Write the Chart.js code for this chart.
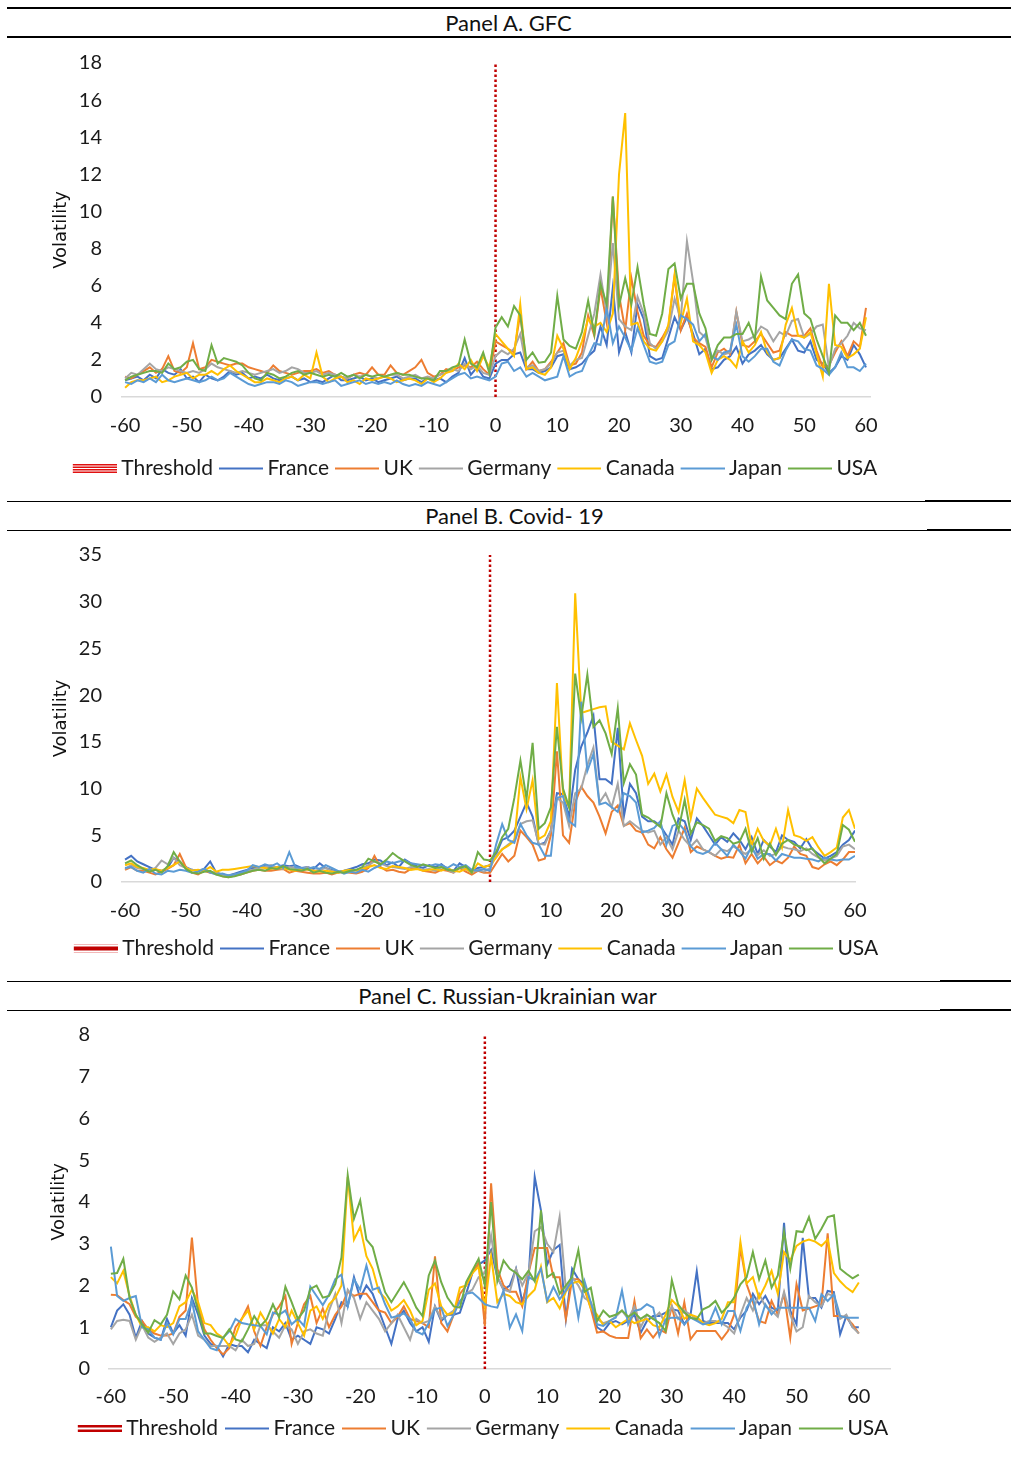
<!DOCTYPE html>
<html>
<head>
<meta charset="utf-8">
<script src="https://cdn.jsdelivr.net/npm/chart.js@4.4.0/dist/chart.umd.min.js"></script>
<style>
  html, body { margin: 0; padding: 0; background: #fff; }
  body { width: 1011px; height: 1459px; position: relative; overflow: hidden; font-family: Lato, "Liberation Sans", sans-serif; }
  .rule { position: absolute; background: #000; }
  .title { position: absolute; width: 1011px; text-align: center; font-size: 22px; line-height: 24px; color: #111; }
  canvas { position: absolute; left: 0; }
</style>
</head>
<body>
<!-- panel title bars -->
<div class="rule" style="left:7px;top:7px;width:1004px;height:2px"></div>
<div class="title" style="left:3px;top:11px">Panel A. GFC</div>
<div class="rule" style="left:7px;top:36px;width:1004px;height:2px"></div>

<div class="rule" style="left:7px;top:501px;width:918px;height:1px"></div>
<div class="rule" style="left:925px;top:500px;width:86px;height:2px"></div>
<div class="title" style="left:9px;top:504px">Panel B. Covid- 19</div>
<div class="rule" style="left:7px;top:530px;width:920px;height:1px"></div>
<div class="rule" style="left:927px;top:529px;width:84px;height:2px"></div>

<div class="rule" style="left:7px;top:981px;width:933px;height:1px"></div>
<div class="rule" style="left:940px;top:980px;width:71px;height:2px"></div>
<div class="title" style="left:2px;top:984px">Panel C. Russian-Ukrainian war</div>
<div class="rule" style="left:7px;top:1010px;width:933px;height:1px"></div>
<div class="rule" style="left:940px;top:1009px;width:71px;height:2px"></div>

<canvas id="chartA" width="1011" height="455" style="top:40px"></canvas>
<canvas id="chartB" width="1011" height="447" style="top:533px"></canvas>
<canvas id="chartC" width="1011" height="446" style="top:1013px"></canvas>

<script>
// event window, days -60 .. 60
const days = [];
for (let d = -60; d <= 60; d++) days.push(d);
const xTickValues = [-60, -50, -40, -30, -20, -10, 0, 10, 20, 30, 40, 50, 60];

const seriesNames = ['France', 'UK', 'Germany', 'Canada', 'Japan', 'USA'];
const seriesColors = ['#4472C4', '#ED7D31', '#A5A5A5', '#FFC000', '#5B9BD5', '#70AD47'];

// ---- Panel A. GFC ----
const gfcFrance = [0.9,1.0,1.1,0.9,1.2,1.0,1.5,1.3,1.2,1.5, 1.0,1.1,0.8,1.2,1.0,0.9,1.1,1.4,1.2,1.3, 1.0,1.1,1.0,1.2,1.0,0.9,1.0,1.1,0.9,1.0, 0.8,0.9,0.8,1.0,1.2,0.9,0.9,1.0,1.1,0.9, 1.0,0.8,0.9,1.0,1.1,0.9,1.0,1.0,0.8,1.0, 0.9,1.0,0.8,1.1,1.3,2.1,1.2,1.6,1.1,1.0,
  1.8,2.0,2.0,2.3,2.4,1.5,1.5,1.3,1.4,1.6, 2.2,2.3,1.5,1.6,1.8,2.2,2.5,3.8,2.8,5.9, 2.4,3.5,2.4,5.0,4.2,2.2,2.0,2.1,3.2,4.3, 3.6,4.3,3.4,2.3,2.6,1.5,1.6,2.0,2.2,2.7, 1.8,2.3,2.5,2.8,2.3,2.0,2.1,2.6,3.1,2.5, 2.4,3.0,2.0,1.8,1.3,1.6,2.2,2.0,2.8,2.3, 1.6];
const gfcUK = [1.1,1.0,1.2,1.4,1.6,1.3,1.5,2.2,1.4,1.3, 1.6,2.9,1.5,1.6,2.0,1.9,1.8,1.7,1.8,1.8, 1.6,1.5,1.4,1.3,1.7,1.4,1.3,1.2,1.3,1.4, 1.4,1.5,1.3,1.4,1.2,1.1,1.0,1.2,1.3,1.2, 1.6,1.2,1.2,1.7,1.3,1.2,1.4,1.6,2.0,1.3, 1.1,1.2,1.5,1.4,1.6,1.7,1.6,1.9,1.5,1.2,
  3.0,2.8,2.6,2.4,4.5,1.5,1.9,1.4,1.5,1.9, 2.4,2.9,1.7,1.8,2.4,4.4,3.3,5.9,4.0,10.8, 5.5,3.6,6.4,4.6,3.3,2.8,2.7,3.2,3.8,6.5, 3.6,4.5,3.2,2.9,2.7,1.6,2.4,2.6,2.3,4.6, 2.8,2.7,3.0,3.4,2.9,2.4,2.5,3.5,3.3,3.3, 3.3,3.7,2.5,1.6,1.7,2.4,3.0,2.2,3.0,2.7, 4.8];
const gfcGermany = [1.0,1.3,1.2,1.5,1.8,1.5,1.4,1.6,1.5,1.4, 1.3,1.4,1.3,1.5,1.8,1.6,1.5,1.4,1.3,1.4, 1.3,1.2,1.3,1.4,1.5,1.3,1.4,1.6,1.5,1.3, 1.3,1.4,1.2,1.3,1.2,1.1,1.0,1.2,1.1,1.2, 1.1,1.0,1.1,1.2,1.2,1.0,1.1,1.2,1.0,1.1, 1.0,1.2,1.3,1.5,1.4,1.8,1.5,1.7,1.3,1.2,
  2.2,2.5,2.3,2.6,3.4,1.6,1.7,1.4,1.5,1.8, 2.4,2.5,1.7,2.0,2.1,3.3,4.5,6.6,4.5,8.3, 4.2,3.8,3.6,5.4,4.5,2.9,2.6,3.0,3.6,5.3, 4.2,8.4,6.2,3.5,3.2,2.0,2.5,2.3,2.4,4.6, 3.0,3.1,3.3,3.8,3.6,3.0,3.5,3.3,4.1,4.2, 3.2,3.4,3.8,3.9,1.6,2.6,2.9,3.3,4.0,3.7, 3.6];
const gfcCanada = [0.5,0.8,0.9,0.9,1.0,1.1,0.8,0.9,1.1,1.2, 1.3,1.0,1.2,1.2,1.4,1.2,1.5,1.7,1.4,1.2, 1.0,0.8,0.8,1.0,0.9,0.8,1.0,1.1,0.9,1.2, 1.0,2.4,1.1,0.8,1.0,1.1,0.8,0.9,0.7,1.0, 0.9,1.0,1.1,1.0,0.8,0.9,1.0,0.9,0.7,1.0, 0.8,1.0,1.3,1.4,1.8,1.5,2.0,1.4,2.2,1.6,
  3.4,3.0,2.6,2.2,5.0,1.5,1.6,1.3,1.2,1.6, 3.3,2.6,1.5,2.1,3.0,4.2,3.8,4.0,3.5,4.5, 12.0,15.3,3.9,4.0,3.0,2.6,2.5,3.0,3.9,6.6, 4.0,5.3,3.0,2.8,2.4,1.3,2.0,2.2,2.0,1.6, 3.0,2.4,2.8,3.5,2.4,2.0,2.1,3.9,4.8,3.3, 3.2,3.5,2.3,1.1,6.1,2.8,2.7,2.1,2.3,2.6, 4.3];
const gfcJapan = [0.8,0.7,0.9,0.8,1.0,0.8,1.2,0.9,0.8,0.9, 1.0,0.9,0.8,0.9,1.1,0.9,1.0,1.3,1.1,0.9, 0.7,0.6,0.7,0.8,0.8,0.7,0.9,0.8,0.6,0.7, 0.8,0.8,0.7,0.8,0.9,0.6,0.7,0.8,0.9,0.7, 0.8,0.7,0.8,0.7,0.9,0.7,0.6,0.7,0.6,0.8, 0.7,0.6,0.8,1.0,1.2,1.3,1.0,1.1,1.0,0.9,
  1.1,1.8,1.9,1.4,1.6,1.1,1.3,1.1,0.9,1.0, 1.1,2.2,1.1,1.3,1.4,2.2,2.9,2.8,4.8,2.9, 3.8,3.2,2.5,3.7,2.8,1.9,1.8,1.9,2.8,3.0, 4.4,4.2,3.9,3.0,3.4,2.2,2.0,2.4,2.5,3.9, 2.2,1.9,2.2,2.6,2.6,1.9,1.7,2.5,3.1,3.0, 2.6,2.5,1.7,1.5,1.2,1.6,2.4,1.6,1.6,1.4, 1.8];
const gfcUSA = [0.9,1.1,1.2,1.3,1.4,1.4,1.3,1.8,1.5,1.6, 1.9,2.0,1.5,1.4,2.8,1.8,2.1,2.0,1.9,1.7, 1.3,1.0,0.9,1.3,1.2,1.0,1.1,1.3,1.4,1.2, 1.3,1.2,1.1,1.2,1.1,1.3,1.1,1.2,1.0,1.2, 1.1,1.2,1.1,1.2,1.3,1.2,1.2,1.1,1.0,1.0, 0.9,1.4,1.4,1.6,1.7,3.1,1.8,1.6,2.4,1.3,
  3.75,4.3,3.8,4.9,4.4,2.0,2.4,1.85,1.9,2.4, 5.45,3.1,2.75,2.6,3.5,5.2,3.4,6.1,5.0,10.8, 4.9,6.4,5.0,7.0,5.0,3.4,3.3,4.5,6.9,7.2, 5.3,6.1,6.1,4.5,3.7,2.0,2.8,3.2,3.2,3.4, 3.4,4.0,3.1,6.5,5.2,4.8,4.4,4.2,6.1,6.6, 4.5,4.2,3.1,2.2,1.3,4.4,4.0,4.0,3.6,4.0, 3.3];

// ---- Panel B. Covid-19 ----
const covFrance = [2.4,2.8,2.2,1.9,1.6,1.3,1.2,1.5,2.6,2.2, 1.6,1.3,1.2,1.4,2.2,1.0,0.8,0.7,0.9,1.1, 1.3,1.5,1.6,1.7,1.5,1.6,1.8,1.7,1.8,1.5, 1.6,1.4,2.0,1.5,1.3,1.1,1.2,1.4,1.6,1.9, 2.0,2.4,2.3,1.8,2.1,1.6,2.4,2.0,1.7,1.5, 1.8,1.6,1.9,1.4,1.2,2.0,1.6,1.2,1.5,1.6,
  1.8,3.0,4.5,4.8,5.5,7.0,8.5,7.0,4.0,4.2, 5.5,9.5,9.4,7.0,12.0,14.5,16.0,17.8,11.0,11.0, 10.5,16.5,7.0,10.5,9.5,7.0,6.5,6.5,6.0,5.0, 4.0,6.8,6.5,4.5,6.8,6.0,5.0,4.0,4.8,4.3, 5.2,4.5,3.5,4.8,3.0,4.5,3.8,3.2,5.0,4.5, 4.3,3.6,4.6,3.5,3.0,2.5,2.8,3.2,4.0,4.5, 5.5];
const covUK = [1.3,1.6,1.2,1.2,1.0,0.8,1.1,1.4,1.8,3.0, 1.6,1.0,0.8,1.2,1.0,0.9,0.6,0.5,0.7,0.8, 1.0,1.2,1.3,1.2,1.2,1.3,1.4,1.0,1.2,1.1, 1.0,0.9,0.9,1.0,0.8,1.0,1.1,1.0,0.9,1.1, 1.5,2.8,1.6,1.2,1.3,1.1,1.0,1.4,1.5,1.2, 1.1,1.0,1.3,1.2,1.0,1.5,1.1,0.8,1.2,1.0,
  1.0,2.0,3.0,2.2,2.8,5.5,4.8,4.0,2.3,2.5, 5.0,14.0,5.0,4.2,8.5,10.2,9.2,8.5,7.0,5.2, 7.5,8.2,6.0,6.3,5.5,5.3,4.0,3.6,4.8,3.5, 2.6,4.2,5.8,3.2,3.8,3.5,3.2,2.8,2.5,2.7, 2.6,4.0,2.0,3.0,2.0,2.7,1.8,2.3,2.0,2.6, 3.8,3.0,2.8,1.6,1.4,1.9,2.2,1.8,2.4,3.2, 3.2];
const covGermany = [1.4,1.8,1.5,1.4,1.2,1.5,2.3,1.9,2.6,1.8, 1.5,1.3,1.2,1.3,1.1,1.0,0.8,0.7,0.8,0.9, 1.2,1.3,1.5,1.6,1.8,1.5,1.4,1.6,1.5,1.4, 1.6,1.2,1.3,1.5,1.2,1.0,1.2,1.1,1.3,1.5, 1.8,2.2,2.0,1.7,1.6,1.5,1.4,1.6,1.5,1.3, 1.4,1.2,1.6,1.3,1.0,1.6,1.4,1.0,1.3,1.1,
  1.5,2.8,3.5,4.0,4.5,6.2,6.5,6.6,4.1,4.0, 5.5,9.0,8.5,6.0,9.5,10.0,12.5,14.4,8.5,9.5, 8.0,10.5,6.0,6.5,6.0,5.5,5.3,5.5,4.0,4.8, 3.5,5.5,4.5,3.8,4.5,3.5,3.2,2.8,3.5,3.3, 3.8,3.4,3.0,3.5,2.9,3.4,2.8,3.0,3.8,3.6, 3.5,3.3,3.6,3.0,2.6,2.3,2.5,2.8,3.8,4.0, 3.5];
const covCanada = [1.8,2.0,1.6,1.5,1.3,1.4,1.2,1.5,1.8,2.2, 1.5,1.2,1.3,1.2,1.6,1.1,1.3,1.3,1.4,1.5, 1.6,1.7,1.6,1.5,1.4,1.6,1.5,1.3,1.2,1.4, 1.3,1.2,1.1,1.2,1.1,1.0,1.2,1.3,1.2,1.4, 1.6,1.8,1.5,1.4,1.7,1.6,1.5,1.3,1.4,1.2, 1.3,1.4,1.2,1.5,1.2,1.1,1.4,1.0,2.0,1.6,
  1.8,2.6,3.5,3.9,4.4,11.2,7.8,10.9,4.6,5.0, 6.5,21.3,9.4,8.0,30.9,18.1,18.3,18.5,18.7,18.8, 15.0,14.6,14.2,17.0,15.2,13.5,10.5,11.6,9.7,11.5, 9.1,7.5,10.9,6.8,10.0,9.0,8.1,7.2,7.0,6.8, 6.3,7.7,7.5,3.9,5.7,4.4,3.9,5.7,3.7,7.7, 5.0,4.8,4.4,4.8,3.7,2.8,3.2,3.7,6.9,7.7, 5.7];
const covJapan = [1.5,1.6,1.2,1.0,1.4,0.9,0.8,1.2,1.1,1.3, 1.2,1.0,1.1,1.4,1.0,0.8,0.9,0.7,0.8,1.0, 1.2,1.8,1.6,1.9,1.7,2.0,1.5,3.2,1.6,1.5, 1.4,1.6,1.4,1.8,1.5,1.2,0.9,1.1,1.0,1.3, 1.1,1.5,1.8,2.2,2.0,2.2,2.3,2.0,1.9,1.8, 1.7,1.9,1.8,1.5,1.9,1.6,1.8,1.3,1.2,1.4,
  1.2,4.0,6.2,4.5,4.2,6.2,5.0,4.2,4.0,2.8, 2.8,9.0,9.2,6.5,6.0,19.3,11.9,13.7,8.3,8.5, 8.0,7.5,9.5,9.2,8.5,5.3,5.5,5.8,6.5,4.0, 6.0,6.3,5.5,3.8,3.2,3.0,3.3,4.2,3.5,2.8, 4.0,3.3,2.5,3.8,2.5,3.0,3.0,2.3,3.0,2.8, 2.6,2.6,2.5,2.4,2.2,2.6,2.4,2.3,2.4,2.4, 2.8];
const covUSA = [2.0,2.3,1.8,1.4,1.1,1.3,1.0,1.7,3.2,2.2, 1.4,1.0,0.9,1.1,1.2,0.8,0.6,0.5,0.6,0.8, 1.0,1.2,1.3,1.2,1.5,1.4,1.7,1.4,1.3,1.2, 1.4,1.0,1.2,1.0,0.9,1.1,1.0,1.2,1.3,1.6, 2.5,2.2,1.9,2.4,3.1,2.6,2.2,1.8,1.6,1.9, 1.7,1.5,1.6,1.3,1.2,1.5,1.7,1.0,3.2,2.4,
  2.3,3.2,4.8,5.7,9.0,13.0,8.9,14.9,5.7,6.3, 8.0,16.6,10.0,8.0,22.3,17.6,22.2,16.6,17.3,15.9, 13.7,18.6,10.6,12.6,11.5,7.2,6.9,6.4,5.9,9.5, 7.2,5.6,8.8,5.2,6.4,6.1,5.7,4.4,4.9,4.7, 4.1,4.3,5.7,3.2,4.7,2.5,4.1,2.9,4.1,4.5, 4.0,3.8,3.4,3.6,2.7,2.0,2.5,3.0,6.1,5.6, 4.3];

// ---- Panel C. Russian-Ukrainian war ----
const ruFrance = [1.0,1.4,1.55,1.3,0.75,1.15,0.85,0.75,0.7,1.2, 0.85,1.05,0.8,1.7,1.3,0.8,0.6,0.55,0.3,0.6, 0.55,0.55,0.4,0.7,0.6,0.5,1.0,0.9,1.1,0.7, 0.8,0.7,0.6,1.0,0.95,0.85,1.2,1.6,1.5,2.2, 1.7,2.0,1.8,1.4,1.0,0.6,1.2,1.4,1.1,0.9, 1.0,0.65,1.5,1.15,1.3,1.3,1.35,1.8,2.3,2.5,
  2.6,2.85,2.2,1.9,2.0,2.4,1.6,2.15,4.6,3.8, 2.5,2.85,2.97,1.2,2.4,2.15,2.03,1.55,1.0,0.9, 1.1,1.15,1.07,1.15,1.3,0.87,1.15,1.27,1.27,1.35, 1.43,1.4,1.07,1.3,2.34,1.15,1.1,1.1,1.1,1.1, 0.95,1.23,1.4,1.8,1.55,1.75,1.47,1.4,3.5,1.4, 1.07,3.14,1.7,1.7,1.47,1.87,1.84,0.83,1.27,1.0, 1.0];
const ruUK = [1.78,1.77,1.65,1.55,1.25,1.15,0.95,0.85,0.8,0.8, 0.85,1.25,1.4,3.15,1.5,0.95,0.7,0.5,0.35,0.5, 1.0,1.2,1.5,0.9,0.55,1.0,1.3,1.5,1.75,0.6, 1.1,1.55,1.75,1.1,1.45,1.0,1.3,1.5,1.85,1.75, 1.8,1.8,1.6,1.4,1.35,1.1,1.25,1.5,1.2,1.15, 1.1,1.0,2.7,1.1,0.9,1.3,1.8,2.0,2.3,2.55,
  1.03,4.45,2.4,2.0,1.85,1.85,1.5,2.3,2.9,2.9, 2.9,2.2,2.2,1.2,2.15,2.15,1.9,1.45,0.87,0.9, 0.8,0.75,0.74,0.74,1.63,0.74,0.95,0.75,0.95,0.87, 1.5,0.85,1.6,0.71,0.91,0.91,0.91,0.91,0.71,0.91, 1.3,2.9,2.03,1.6,1.15,1.1,1.63,1.3,1.8,0.75, 2.03,1.4,1.45,1.5,1.55,3.25,1.27,1.27,1.23,1.07, 0.85];
const ruGermany = [0.95,1.15,1.18,1.15,0.7,1.05,0.75,0.65,0.75,0.85, 0.6,0.85,0.95,1.3,0.8,0.7,0.55,0.55,0.55,0.55, 0.45,0.7,0.55,0.6,1.05,1.05,0.9,0.75,1.05,0.95, 0.6,0.9,0.95,0.85,0.8,1.4,1.8,1.1,1.9,1.7, 1.2,1.6,1.4,1.2,0.9,1.1,1.3,1.0,0.7,1.2, 1.1,1.15,1.5,1.2,1.3,1.4,1.6,1.8,1.9,2.2,
  2.3,3.2,2.2,1.9,1.85,2.4,2.0,2.3,3.3,3.4, 3.0,2.8,3.65,1.9,2.2,2.0,1.7,1.6,1.2,1.1, 1.15,1.25,1.4,1.2,1.5,1.0,1.3,1.2,1.35,1.1, 1.5,1.2,1.4,1.3,1.2,1.1,1.15,1.15,1.1,1.0, 0.85,1.3,1.7,1.4,1.8,1.5,1.4,1.25,1.85,1.3, 0.9,1.0,1.75,1.6,1.5,1.8,1.75,1.2,1.3,1.0, 0.85];
const ruCanada = [2.2,2.05,2.35,1.75,1.3,1.0,1.0,0.9,1.05,1.0, 1.1,1.5,1.6,1.9,1.6,1.1,1.05,0.85,0.75,0.55, 0.8,1.2,1.4,0.95,1.35,1.1,0.85,1.2,1.0,1.4, 1.1,0.8,1.4,1.5,1.2,1.55,1.7,2.0,4.6,3.1, 3.4,2.7,2.4,1.85,1.7,1.4,1.5,1.65,1.4,1.05, 1.15,1.9,2.05,1.5,1.3,1.35,1.95,2.0,2.3,2.45,
  1.5,2.7,1.6,1.8,1.75,1.6,1.55,1.75,1.9,2.45, 1.6,1.7,1.45,1.85,2.05,2.1,1.95,1.45,1.3,1.05, 1.15,1.0,1.1,1.2,1.1,1.15,1.2,1.05,1.0,1.3, 1.65,1.5,1.2,1.3,1.25,1.1,1.05,1.1,1.2,1.6, 1.6,3.05,2.05,2.2,1.7,2.0,2.35,1.8,2.8,2.6, 2.95,3.05,3.1,3.05,2.95,3.1,2.3,2.1,1.95,1.84, 2.07];
const ruJapan = [2.93,1.75,1.63,1.7,1.75,1.0,0.95,0.75,0.7,1.1, 0.83,1.2,1.2,1.63,0.9,0.7,0.5,0.45,0.75,0.9, 1.2,1.1,1.07,1.05,1.03,0.83,1.35,1.3,1.4,1.07, 1.2,1.03,1.97,1.75,1.53,1.78,2.15,2.26,1.5,2.15, 1.9,2.48,1.9,1.95,1.55,1.23,1.27,1.33,1.2,0.9, 0.83,1.1,1.43,1.47,1.03,1.3,1.63,1.8,1.83,1.7,
  1.55,1.5,1.47,1.88,0.99,1.31,0.91,2.2,2.12,2.4, 1.63,1.97,1.67,1.88,2.12,1.23,2.1,1.6,1.07,1.03, 1.15,1.23,1.88,1.07,1.39,1.43,1.55,1.47,0.79,1.19, 1.23,1.23,1.07,1.23,1.15,1.07,1.11,1.47,1.07,1.39, 1.39,0.91,1.47,1.71,1.07,1.55,1.31,1.47,1.47,1.47, 1.47,1.47,1.47,1.15,1.79,1.63,1.79,1.27,1.23,1.23, 1.23];
const ruUSA = [2.28,2.3,2.64,1.7,1.3,1.07,0.87,1.17,1.07,1.3, 1.86,1.67,2.24,1.95,1.4,0.85,0.85,0.79,0.74,0.95, 0.71,0.66,0.95,1.27,1.03,1.19,1.55,1.23,1.97,1.6, 1.2,1.4,1.92,2.0,1.71,1.75,2.03,2.68,4.64,3.6, 4.04,3.1,2.92,2.36,1.84,1.6,1.84,2.08,1.8,1.47, 1.27,2.24,2.6,2.08,1.71,1.5,1.47,2.08,2.36,2.64,
  2.0,4.0,2.1,2.6,2.4,2.3,2.15,2.35,2.1,3.8, 2.2,2.3,1.8,2.0,2.2,2.85,1.85,1.95,1.15,1.4, 1.25,1.3,1.4,1.25,1.35,1.2,1.3,1.2,1.1,0.91, 2.13,1.55,1.35,1.23,1.19,1.43,1.5,1.63,1.35,1.5, 1.71,2.03,2.2,2.8,2.15,2.6,1.95,2.24,3.28,2.4, 3.3,3.28,3.64,3.12,3.36,3.64,3.68,2.4,2.28,2.17, 2.26];

// legend swatches: drawn right-shifted so the gap to the label stays small
function lineIcon(color) {
  const c = document.createElement('canvas');
  c.width = 54; c.height = 4;
  const g = c.getContext('2d');
  g.fillStyle = color;
  g.fillRect(10, 1, 44, 2);
  return c;
}

function thresholdIcon(kind) {
  const c = document.createElement('canvas');
  c.width = 54; c.height = 11;
  const g = c.getContext('2d');
  if (kind === 'A') {
    g.fillStyle = '#E01010';
    [1, 3.5, 6, 8.5].forEach(y => g.fillRect(10, y, 44, 1.5));
  } else if (kind === 'B') {
    g.fillStyle = '#F2B8B8';
    g.fillRect(10, 1, 44, 1);
    g.fillRect(10, 9, 44, 1);
    g.fillStyle = '#C00000';
    g.fillRect(10, 3.5, 44, 4);
  } else {
    g.fillStyle = '#C00000';
    g.fillRect(10, 2, 44, 2.5);
    g.fillRect(10, 6.5, 44, 2.5);
  }
  return c;
}

function buildPanel(id, series, p) {
  const icons = [thresholdIcon(p.kind)].concat(seriesColors.map(lineIcon));
  const datasets = [{
    label: 'Threshold',
    data: [{x: 0, y: 0}, {x: 0, y: p.yMax}],
    borderColor: '#C00000',
    borderWidth: 2.5,
    borderDash: [2.5, 2.5],
    pointRadius: 0,
    order: 7
  }];
  seriesNames.forEach((name, i) => {
    datasets.push({
      label: name,
      data: series[i],
      borderColor: seriesColors[i],
      backgroundColor: seriesColors[i],
      borderWidth: 2,
      pointRadius: 0,
      tension: 0,
      order: 6 - i
    });
  });

  return new Chart(document.getElementById(id), {
    type: 'line',
    data: { labels: days, datasets: datasets },
    options: {
      responsive: false,
      animation: false,
      layout: { padding: { left: 0, right: p.padR, top: p.padTop, bottom: p.padBottom } },
      plugins: {
        tooltip: { enabled: false },
        legend: {
          position: 'bottom',
          labels: {
            usePointStyle: true,
            pointStyleWidth: 42,
            padding: p.legendPad,
            color: '#1a1a1a',
            font: { family: 'Lato', size: 21 },
            generateLabels: chart => {
              const items = Chart.defaults.plugins.legend.labels.generateLabels(chart);
              items.sort((a, b) => a.datasetIndex - b.datasetIndex);
              items.forEach(it => { it.pointStyle = icons[it.datasetIndex]; });
              return items;
            }
          }
        }
      },
      scales: {
        x: {
          type: 'linear',
          min: p.xMin,
          max: p.xMax,
          afterBuildTicks: s => { s.ticks = xTickValues.map(v => ({value: v})); },
          afterFit: s => { s.height = p.xAxisH; },
          grid: { display: false, drawTicks: false },
          border: { display: true, color: '#d9d9d9', width: 1.5 },
          ticks: { padding: p.xTickPad, color: '#1a1a1a', font: { family: 'Lato', size: 20 }, maxRotation: 0 }
        },
        y: {
          min: 0,
          max: p.yMax,
          afterFit: s => { s.width = p.yW; },
          // the gap between labels and plot comes from an invisible tick length
          grid: { display: false, drawTicks: true, tickLength: p.yTickGap },
          border: { display: false },
          ticks: { stepSize: p.yStep, padding: 0, color: '#1a1a1a', font: { family: 'Lato', size: 20 } },
          title: {
            display: true,
            text: 'Volatility',
            color: '#111',
            font: { family: 'DejaVu Sans', size: 18 },
            padding: { top: p.titlePad, bottom: 0 }
          }
        },
        pad: {
          position: 'right',
          afterFit: s => { s.width = p.rightW; },
          grid: { display: false, drawTicks: false },
          border: { display: false },
          ticks: { display: false }
        }
      }
    }
  });
}

buildPanel('chartA', [gfcFrance, gfcUK, gfcGermany, gfcCanada, gfcJapan, gfcUSA], {
  kind: 'A', yMax: 18, yStep: 2, xMin: -60.5, xMax: 60.65,
  padTop: 23, padBottom: 6, padR: 65, rightW: 76, yW: 122, xAxisH: 59, legendPad: 2,
  xTickPad: 17, yTickGap: 20, titlePad: 51
});
buildPanel('chartB', [covFrance, covUK, covGermany, covCanada, covJapan, covUSA], {
  kind: 'B', yMax: 35, yStep: 5, xMin: -60.5, xMax: 60,
  padTop: 22, padBottom: 11, padR: 63, rightW: 93, yW: 122, xAxisH: 54, legendPad: 2,
  xTickPad: 17, yTickGap: 20, titlePad: 51
});
buildPanel('chartC', [ruFrance, ruUK, ruGermany, ruCanada, ruJapan, ruUSA], {
  kind: 'C', yMax: 8, yStep: 1, xMin: -60.3, xMax: 65,
  padTop: 22, padBottom: 10, padR: 49, rightW: 72, yW: 109, xAxisH: 46, legendPad: 3,
  xTickPad: 16, yTickGap: 19, titlePad: 49
});
</script>
</body>
</html>
